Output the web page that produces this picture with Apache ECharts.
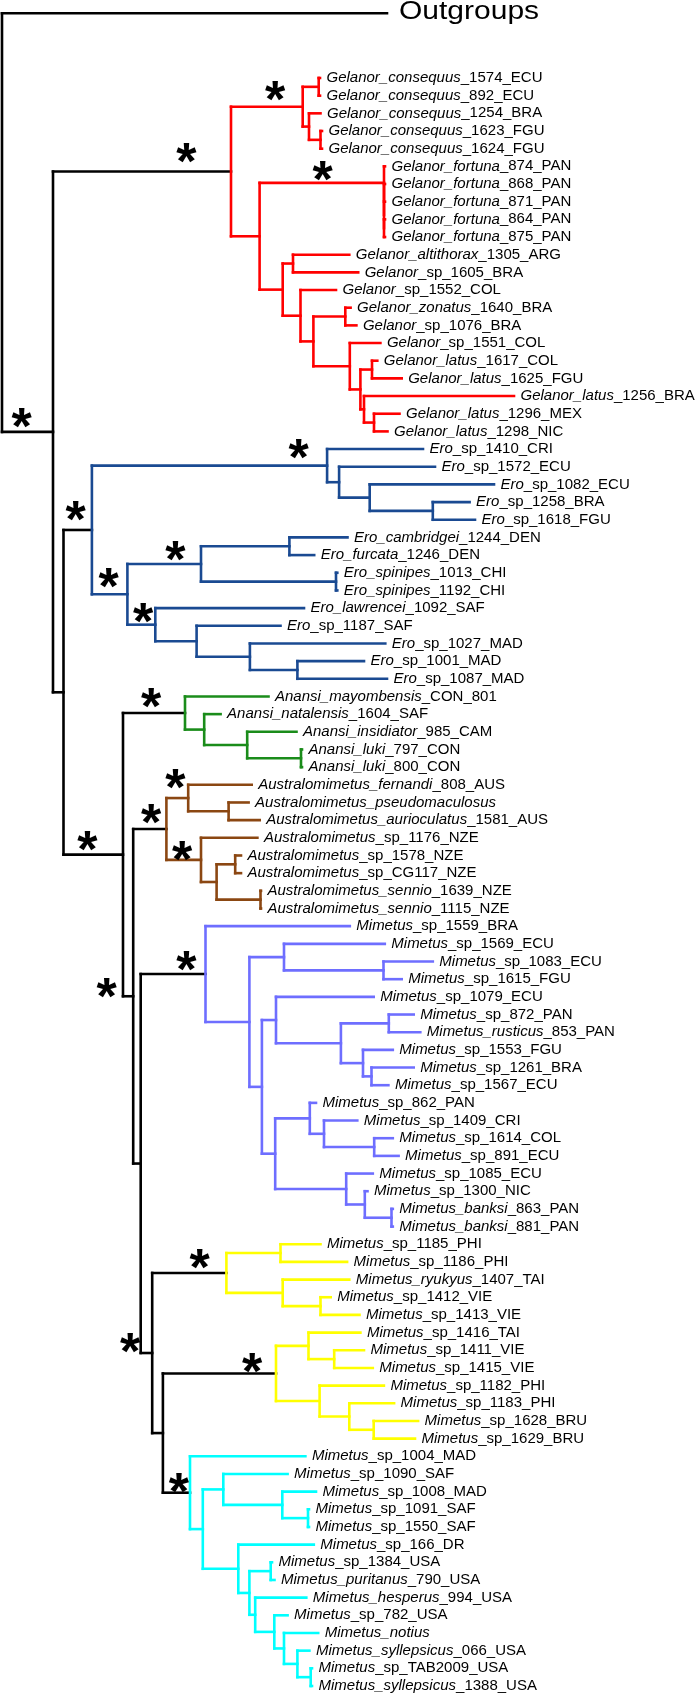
<!DOCTYPE html>
<html><head><meta charset="utf-8">
<script src="https://cdn.jsdelivr.net/npm/echarts@6/dist/echarts.min.js"></script>
<style>html,body{margin:0;padding:0;background:#fff}#c{width:696px;height:1694px}</style>
</head><body><div id="c"></div>
<script>
// ---- leaf taxa (top to bottom) ----
const leafNames = [
 'Gelanor_consequus_1574_ECU','Gelanor_consequus_892_ECU','Gelanor_consequus_1254_BRA','Gelanor_consequus_1623_FGU','Gelanor_consequus_1624_FGU',
 'Gelanor_fortuna_874_PAN','Gelanor_fortuna_868_PAN','Gelanor_fortuna_871_PAN','Gelanor_fortuna_864_PAN','Gelanor_fortuna_875_PAN',
 'Gelanor_altithorax_1305_ARG','Gelanor_sp_1605_BRA','Gelanor_sp_1552_COL','Gelanor_zonatus_1640_BRA','Gelanor_sp_1076_BRA',
 'Gelanor_sp_1551_COL','Gelanor_latus_1617_COL','Gelanor_latus_1625_FGU','Gelanor_latus_1256_BRA','Gelanor_latus_1296_MEX','Gelanor_latus_1298_NIC',
 'Ero_sp_1410_CRI','Ero_sp_1572_ECU','Ero_sp_1082_ECU','Ero_sp_1258_BRA','Ero_sp_1618_FGU',
 'Ero_cambridgei_1244_DEN','Ero_furcata_1246_DEN','Ero_spinipes_1013_CHI','Ero_spinipes_1192_CHI',
 'Ero_lawrencei_1092_SAF','Ero_sp_1187_SAF','Ero_sp_1027_MAD','Ero_sp_1001_MAD','Ero_sp_1087_MAD',
 'Anansi_mayombensis_CON_801','Anansi_natalensis_1604_SAF','Anansi_insidiator_985_CAM','Anansi_luki_797_CON','Anansi_luki_800_CON',
 'Australomimetus_fernandi_808_AUS','Australomimetus_pseudomaculosus','Australomimetus_aurioculatus_1581_AUS','Australomimetus_sp_1176_NZE',
 'Australomimetus_sp_1578_NZE','Australomimetus_sp_CG117_NZE','Australomimetus_sennio_1639_NZE','Australomimetus_sennio_1115_NZE',
 'Mimetus_sp_1559_BRA','Mimetus_sp_1569_ECU','Mimetus_sp_1083_ECU','Mimetus_sp_1615_FGU','Mimetus_sp_1079_ECU','Mimetus_sp_872_PAN',
 'Mimetus_rusticus_853_PAN','Mimetus_sp_1553_FGU','Mimetus_sp_1261_BRA','Mimetus_sp_1567_ECU','Mimetus_sp_862_PAN','Mimetus_sp_1409_CRI',
 'Mimetus_sp_1614_COL','Mimetus_sp_891_ECU','Mimetus_sp_1085_ECU','Mimetus_sp_1300_NIC','Mimetus_banksi_863_PAN','Mimetus_banksi_881_PAN',
 'Mimetus_sp_1185_PHI','Mimetus_sp_1186_PHI','Mimetus_ryukyus_1407_TAI','Mimetus_sp_1412_VIE','Mimetus_sp_1413_VIE',
 'Mimetus_sp_1416_TAI','Mimetus_sp_1411_VIE','Mimetus_sp_1415_VIE','Mimetus_sp_1182_PHI','Mimetus_sp_1183_PHI','Mimetus_sp_1628_BRU','Mimetus_sp_1629_BRU',
 'Mimetus_sp_1004_MAD','Mimetus_sp_1090_SAF','Mimetus_sp_1008_MAD','Mimetus_sp_1091_SAF','Mimetus_sp_1550_SAF','Mimetus_sp_166_DR',
 'Mimetus_sp_1384_USA','Mimetus_puritanus_790_USA','Mimetus_hesperus_994_USA','Mimetus_sp_782_USA','Mimetus_notius',
 'Mimetus_syllepsicus_066_USA','Mimetus_sp_TAB2009_USA','Mimetus_syllepsicus_1388_USA'
];
// ---- tip depths (cumulative branch length) ----
const leafDepths = [
 320,320,320.5,322,322, 385,385,385,385,385,
 349.3,358.2,336,350.6,356.4,380.4,377.3,401.7,514,399.5,387.5,
 423,435,494,469.6,475,347.5,314.2,337.3,337.3,304,280.5,385.3,364,387,
 268.5,220.6,296.5,302,302,
 251.7,248.6,259.7,257.4,241,241,261,261,
 349.8,384.8,432.8,401.7,373.7,413.7,420.3,392.8,413.7,388.4,316,357.3,392.8,398.6,372.8,367.5,392.8,392.8,
 320.5,347.1,349.3,330.7,359.5,
 360.4,364,372.8,383.9,394.1,418.1,415,
 305.4,287.6,316,309,309,313.8,272,274.5,306.3,287.6,318.2,309.4,312,312
];
const outgroupName = 'Outgroups';
const outgroupDepth = 387;
const outgroupRow = -3.66;

// ---- topology (leaf index : node depth) per clade ----
const gelanorTree = "(((0,1):318.7,(2,(3,4):320.5):309):302.7,((5,(6,(7,(8,9):384):384):384):384,((10,11):293,(12,((13,14):345.3,(15,((16,17):372,(18,(19,20):374):364):360.4):349.8):313.4):300.5):282.7):259.6):231";
const eroTree = "((21,(22,(23,(24,25):432.8):369.7):339.1):327.1,(((26,27):289.4,(28,29):336):201,(30,(31,(32,(33,34):297.4):249.9):196.6):155.3):127.4):91.9";
const anansiTree = "(35,(36,(37,(38,39):301):247.2):204.2):185";
const australTree = "((40,(41,42):228.6):188.2,(43,((44,45):235.2,(46,47):260.5):216.6):201):166.4";
const mimetusNWTree = "(48,((49,(50,51):383.5):284,((52,((53,54):388.8,(55,(56,57):371.5):363):340.9):276,((58,(59,(60,61):374.2):324):309.8,(62,(63,(64,65):391.5):364.8):346.2):275.2):261.9):249.4):205.5";
const mimetusAsia1Tree = "((66,67):280.5,(68,(69,70):320.5):282.7):226.4";
const mimetusAsia2Tree = "((71,(72,73):334.2):308.5,(74,(75,(76,77):373.7):349.3):319.6):276";
const mimetusAfrUSATree = "(78,((79,(80,(81,82):308):282.3):223.3,(83,((84,85):270.7,(86,(87,(88,(89,(90,91):310.7):297.4):284):274.3):255.2):249.4):238.3):202.8):190";
const backboneTree = "(OG,(GEL,(ERO,(ANA,(AUS,(MNW,(MA1,(MA2,MAU):162.9):152.2):140.7):133.2):123):63.5):53):2";

// ---- clade colouring ----
const cladeFirst = [0,21,35,40,48,66,78];
const cladeLast  = [20,34,39,47,65,77,91];
const cladeColors = ['#ff0000','#1a4a92','#1a8c1a','#8b4712','#6e6eff','#ffff00','#00ffff'];

// ---- support asterisks ----
const starDepths = [186.4,275,322.7,21.7,75.5,298.7,108.7,175.3,143,151,87.4,151,175.3,182,106.5,186.4,199.7,130,252.1,178.9];
const starRows   = [4.26,0.78,5.30,19.26,24.54,21.05,28.31,26.81,30.29,35.10,43.22,41.71,39.73,43.79,51.52,50.01,66.89,71.61,72.74,79.57];

// ---------------------------------------------------------------
const fullTree = backboneTree
  .replace('GEL', gelanorTree).replace('ERO', eroTree).replace('ANA', anansiTree)
  .replace('AUS', australTree).replace('MNW', mimetusNWTree).replace('MA1', mimetusAsia1Tree)
  .replace('MA2', mimetusAsia2Tree).replace('MAU', mimetusAfrUSATree);

function parseTree(s) {
  let i = 0;
  function node() {
    if (s[i] === '(') {
      i++;
      const kids = [node()];
      while (s[i] === ',') { i++; kids.push(node()); }
      i++;
      let d = '';
      if (s[i] === ':') { i++; while (i < s.length && /[0-9.]/.test(s[i])) d += s[i++]; }
      return { kids, depth: parseFloat(d) };
    }
    let t = '';
    while (i < s.length && /[A-Za-z0-9]/.test(s[i])) t += s[i++];
    if (t === 'OG') return { leaf: -1, depth: outgroupDepth, row: outgroupRow, name: outgroupName, lo: -1, hi: -1 };
    const k = +t;
    return { leaf: k, depth: leafDepths[k], row: k, name: leafNames[k], lo: k, hi: k };
  }
  return node();
}
const root = parseTree(fullTree);

function layout(n) {
  if (!n.kids) return;
  n.kids.forEach(layout);
  n.row = (n.kids[0].row + n.kids[n.kids.length - 1].row) / 2;
  n.lo = Math.min(...n.kids.map(k => k.lo));
  n.hi = Math.max(...n.kids.map(k => k.hi));
  n.color = -1;
  if (n.lo >= 0) {
    for (let c = 0; c < cladeFirst.length; c++) {
      if (n.lo >= cladeFirst[c] && n.hi <= cladeLast[c]) n.color = c;
    }
  }
}
layout(root);

const segData = [];
const tipData = [];
const tipNames = [];
function collect(n) {
  if (!n.kids) { tipData.push([n.depth, n.row]); tipNames.push(n.name); return; }
  const first = n.kids[0], last = n.kids[n.kids.length - 1];
  segData.push([n.depth, first.row, n.depth, last.row, n.color]);
  n.kids.forEach(k => {
    segData.push([n.depth, k.row, k.depth, k.row, n.color]);
    collect(k);
  });
}
collect(root);

function richName(name) {
  const p = name.split('_');
  if (p.length < 2) return name;
  let ital, rest;
  if (p[1] === 'sp') { ital = p[0]; rest = p.slice(1); }
  else { ital = p[0] + '_' + p[1]; rest = p.slice(2); }
  return '{i|' + ital + '}' + (rest.length ? '{n|_' + rest.join('_') + '}' : '');
}

const FONT = '"Liberation Sans", Arial, Helvetica, sans-serif';
const chart = echarts.init(document.getElementById('c'), null, { renderer: 'canvas' });
chart.setOption({
  animation: false,
  backgroundColor: '#ffffff',
  grid: { left: 0, right: 0, top: 0, bottom: 0 },
  xAxis: { type: 'value', min: 0, max: 696, show: false },
  yAxis: { type: 'value', min: -4.414, max: 91.453, inverse: true, show: false },
  series: [
    {
      type: 'custom', clip: false, data: segData,
      encode: { x: [0, 2], y: [1, 3] },
      renderItem(params, api) {
        const a = api.coord([api.value(0), api.value(1)]);
        const b = api.coord([api.value(2), api.value(3)]);
        const ci = api.value(4);
        return { type: 'line', shape: { x1: a[0], y1: a[1], x2: b[0], y2: b[1] },
          style: { stroke: ci < 0 ? '#000000' : cladeColors[ci], lineWidth: 2.6, lineCap: 'square' } };
      }
    },
    {
      type: 'custom', clip: false, data: tipData,
      encode: { x: 0, y: 1 },
      renderItem(params, api) {
        const p = api.coord([api.value(0), api.value(1)]);
        const name = tipNames[params.dataIndex];
        if (name === outgroupName) {
          return { type: 'text', x: p[0] + 12, y: p[1] - 1, scaleX: 1.2,
            style: { text: name, x: 0, y: 0, font: '25px ' + FONT, fill: '#000', align: 'left', verticalAlign: 'middle' } };
        }
        return { type: 'text', x: p[0] + 6.5, y: p[1],
          style: { text: richName(name), x: 0, y: 0, fill: '#000', align: 'left', verticalAlign: 'middle',
            fontSize: 15, fontFamily: FONT,
            rich: { i: { fontStyle: 'italic', fontSize: 15, fontFamily: FONT, fill: '#000' },
                    n: { fontSize: 15, fontFamily: FONT, fill: '#000' } } } };
      }
    },
    {
      type: 'custom', clip: false,
      data: starDepths.map((d, k) => [d, starRows[k]]),
      encode: { x: 0, y: 1 },
      renderItem(params, api) {
        const p = api.coord([api.value(0), api.value(1)]);
        return { type: 'text', x: p[0], y: p[1] + 11,
          style: { text: '*', x: 0, y: 0, font: 'bold 52px ' + FONT, fill: '#000', align: 'center', verticalAlign: 'middle' } };
      }
    }
  ]
});
</script></body></html>
